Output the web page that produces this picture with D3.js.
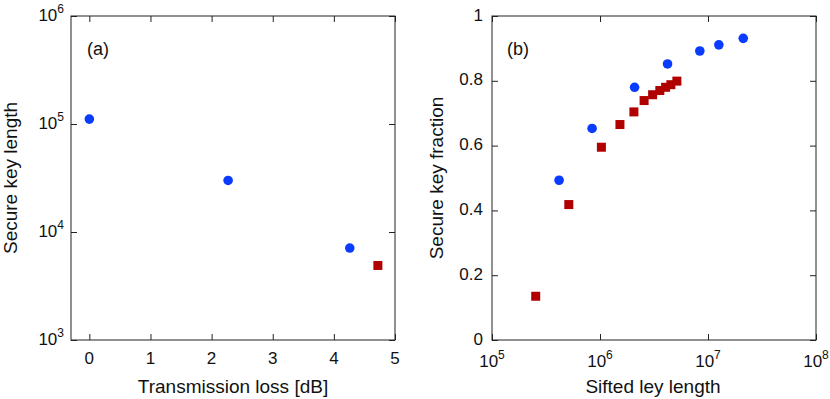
<!DOCTYPE html>
<html>
<head>
<meta charset="utf-8">
<script src="https://cdn.jsdelivr.net/npm/d3@7"></script>
<style>
  body { margin: 0; background: #fff; }
  text { font-family: "Liberation Sans", Arial, sans-serif; fill: #111; }
</style>
</head>
<body>
<div id="chart"></div>
<script>
// panel (a): secure key length vs transmission loss
const lossBlue = [0, 2.27, 4.26];
const keyBlue = [1.11e5, 3.0e4, 7.1e3];
const lossRed = [4.72];
const keyRed = [4.9e3];
const lossTicks = [0, 1, 2, 3, 4, 5];
const keyTicks = [3, 4, 5, 6];

// panel (b): secure key fraction vs sifted key length
const siftBlue = [4.18e5, 8.45e5, 2.09e6, 4.22e6, 8.4e6, 1.26e7, 2.12e7];
const fracBlue = [0.493, 0.653, 0.780, 0.852, 0.892, 0.911, 0.931];
const siftRed = [2.54e5, 5.14e5, 1.03e6, 1.53e6, 2.06e6, 2.56e6, 3.07e6, 3.58e6, 4.05e6, 4.53e6, 5.15e6];
const fracRed = [0.135, 0.418, 0.595, 0.665, 0.704, 0.739, 0.757, 0.770, 0.780, 0.788, 0.799];
const siftTicks = [5, 6, 7, 8];
const fracTicks = [0, 0.2, 0.4, 0.6, 0.8, 1];

const blue = "#0a3cff", red = "#b00000";
const W = 830, H = 399;
const plotTop = 16, plotBottom = 340;
const tickFont = 17, titleFont = 19;

const svg = d3.select("#chart").append("svg")
  .attr("width", W).attr("height", H);

// draws a framed panel with inward ticks on all four sides
function frame(x, y, xt, yt) {
  const g = svg.append("g");
  const tl = 6;
  g.append("g").attr("transform", `translate(0,${plotBottom})`)
    .call(d3.axisBottom(x).tickValues(xt).tickSize(-tl).tickFormat(""));
  g.append("g").attr("transform", `translate(0,${plotTop})`)
    .call(d3.axisTop(x).tickValues(xt).tickSize(-tl).tickFormat(""));
  g.append("g").attr("transform", `translate(${x.range()[0]},0)`)
    .call(d3.axisLeft(y).tickValues(yt).tickSize(-tl).tickFormat(""));
  g.append("g").attr("transform", `translate(${x.range()[1]},0)`)
    .call(d3.axisRight(y).tickValues(yt).tickSize(-tl).tickFormat(""));
  g.selectAll(".domain").remove();
  g.selectAll("line").attr("stroke", "#222");
  g.append("rect")
    .attr("x", x.range()[0]).attr("y", plotTop)
    .attr("width", x.range()[1] - x.range()[0])
    .attr("height", plotBottom - plotTop)
    .attr("fill", "none").attr("stroke", "#222").attr("stroke-width", 1);
  return g;
}

function powLabel(g, px, py, exp, anchor) {
  const t = g.append("text")
    .attr("x", px).attr("y", py)
    .attr("text-anchor", anchor)
    .attr("font-size", tickFont);
  t.append("tspan").text("10");
  t.append("tspan").attr("dy", -8).attr("font-size", 12).text(exp);
}

// ---- panel (a)
const xa = d3.scaleLinear().domain([-0.3, 5]).range([71, 395]);
const ya = d3.scaleLog().domain([1e3, 1e6]).range([plotBottom, plotTop]);
const ga = frame(xa, ya, lossTicks, keyTicks.map(e => Math.pow(10, e)));

lossTicks.forEach(d => {
  ga.append("text").attr("x", xa(d)).attr("y", 363.5)
    .attr("text-anchor", "middle").attr("font-size", tickFont).text(d);
});
keyTicks.forEach(e => powLabel(ga, 64, ya(Math.pow(10, e)) + 4.5, e, "end"));

ga.append("text").attr("x", 233).attr("y", 393)
  .attr("text-anchor", "middle").attr("font-size", titleFont).text("Transmission loss [dB]");
ga.append("text").attr("transform", `translate(17,${(plotTop + plotBottom) / 2}) rotate(-90)`)
  .attr("text-anchor", "middle").attr("font-size", titleFont).text("Secure key length");
ga.append("text").attr("x", 87).attr("y", 55).attr("font-size", 18).text("(a)");

ga.selectAll("circle.b").data(d3.range(lossBlue.length)).enter()
  .append("circle").attr("class", "b")
  .attr("cx", i => xa(lossBlue[i])).attr("cy", i => ya(keyBlue[i]))
  .attr("r", 4.8).attr("fill", blue);
ga.selectAll("rect.r").data(d3.range(lossRed.length)).enter()
  .append("rect").attr("class", "r")
  .attr("x", i => xa(lossRed[i]) - 4.5).attr("y", i => ya(keyRed[i]) - 4.5)
  .attr("width", 9).attr("height", 9).attr("fill", red);

// ---- panel (b)
const xb = d3.scaleLog().domain([1e5, 1e8]).range([492, 816]);
const yb = d3.scaleLinear().domain([0, 1]).range([plotBottom, plotTop]);
const gb = frame(xb, yb, siftTicks.map(e => Math.pow(10, e)), fracTicks);

siftTicks.forEach(e => powLabel(gb, xb(Math.pow(10, e)), 366.5, e, "middle"));
fracTicks.forEach(d => {
  gb.append("text").attr("x", 483).attr("y", yb(d) + 4.5)
    .attr("text-anchor", "end").attr("font-size", tickFont)
    .text(d === 0 || d === 1 ? d : d.toFixed(1));
});

gb.append("text").attr("x", 653).attr("y", 393)
  .attr("text-anchor", "middle").attr("font-size", titleFont).text("Sifted ley length");
gb.append("text").attr("transform", `translate(443,${(plotTop + plotBottom) / 2}) rotate(-90)`)
  .attr("text-anchor", "middle").attr("font-size", titleFont).text("Secure key fraction");
gb.append("text").attr("x", 507).attr("y", 55).attr("font-size", 18).text("(b)");

gb.selectAll("rect.r").data(d3.range(siftRed.length)).enter()
  .append("rect").attr("class", "r")
  .attr("x", i => xb(siftRed[i]) - 4.5).attr("y", i => yb(fracRed[i]) - 4.5)
  .attr("width", 9).attr("height", 9).attr("fill", red);
gb.selectAll("circle.b").data(d3.range(siftBlue.length)).enter()
  .append("circle").attr("class", "b")
  .attr("cx", i => xb(siftBlue[i])).attr("cy", i => yb(fracBlue[i]))
  .attr("r", 4.8).attr("fill", blue);
</script>
</body>
</html>
